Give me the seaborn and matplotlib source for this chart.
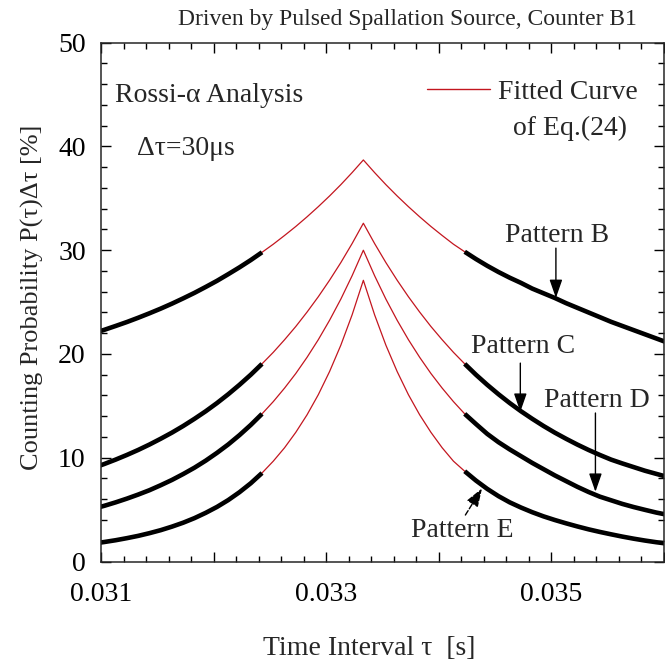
import numpy as np
import pandas as pd
import matplotlib
matplotlib.use("Agg")
import matplotlib.pyplot as plt
import seaborn as sns
from matplotlib.ticker import MultipleLocator, FuncFormatter
from matplotlib.lines import Line2D

# ---- data ----
# sampling grid: offsets k = -24..27 (step 0.1 ms) around the peak at T = 1/30 s
offset_k = np.arange(-24, 28)
tau = np.round(0.03333 + 0.0001 * offset_k, 5)

pattern_B = [21.99, 22.33, 22.70, 23.08, 23.49, 23.92, 24.37, 24.85, 25.36, 25.89, 26.46, 27.05,
             27.69, 28.35, 29.05, 29.80, 30.58, 31.42, 32.29, 33.22, 34.20, 35.23, 36.32, 37.48,
             38.70,
             37.48, 36.32, 35.23, 34.20, 33.22, 32.29, 31.42, 30.58, 29.85, 29.15, 28.50, 27.90,
             27.35, 26.85, 26.30, 25.85, 25.40, 24.90, 24.45, 24.00, 23.55, 23.10, 22.70, 22.30,
             21.90, 21.50, 21.10]
pattern_C = [9.01, 9.40, 9.82, 10.27, 10.75, 11.27, 11.83, 12.42, 13.06, 13.75, 14.48, 15.27,
             16.12, 17.03, 18.00, 19.05, 20.16, 21.37, 22.65, 24.04, 25.52, 27.11, 28.81, 30.64,
             32.60,
             30.64, 28.81, 27.11, 25.52, 24.04, 22.65, 21.37, 20.16, 19.05, 18.00, 17.03, 16.12,
             15.27, 14.48, 13.75, 13.06, 12.42, 11.83, 11.27, 10.75, 10.27, 9.82, 9.45, 9.10,
             8.75, 8.45, 8.15]
pattern_D = [5.08, 5.37, 5.70, 6.06, 6.45, 6.87, 7.35, 7.86, 8.43, 9.04, 9.72, 10.47,
             11.28, 12.18, 13.16, 14.23, 15.41, 16.71, 18.12, 19.68, 21.38, 23.25, 25.29, 27.54,
             30.00,
             27.54, 25.29, 23.25, 21.38, 19.68, 18.12, 16.71, 15.41, 14.23, 13.25, 12.30, 11.50,
             10.80, 10.15, 9.50, 8.90, 8.30, 7.75, 7.20, 6.70, 6.25, 5.90, 5.55, 5.25,
             4.98, 4.72, 4.50]
pattern_E = [1.73, 1.88, 2.05, 2.25, 2.47, 2.73, 3.02, 3.36, 3.74, 4.18, 4.69, 5.26,
             5.92, 6.68, 7.54, 8.53, 9.67, 10.96, 12.45, 14.14, 16.08, 18.31, 20.85, 23.77,
             27.10,
             23.77, 20.85, 18.31, 16.08, 14.14, 12.45, 10.96, 9.67, 8.70, 7.80, 7.00, 6.30,
             5.70, 5.20, 4.75, 4.35, 4.00, 3.68, 3.38, 3.10, 2.85, 2.62, 2.40, 2.20,
             2.02, 1.86, 1.72]

patterns = {"B": pattern_B, "C": pattern_C, "D": pattern_D, "E": pattern_E}
measured_from_k = 9   # measured data shown for |k| >= 9, fitted curve in between

df = pd.concat([pd.DataFrame({"tau": tau, "k": offset_k, "P": vals, "pattern": name})
                for name, vals in patterns.items()], ignore_index=True)

# ---- style ----
sns.set_style("ticks")
plt.rcParams["font.family"] = ["Liberation Serif", "DejaVu Serif"]
plt.rcParams["axes.linewidth"] = 1.1

RED = "#c3161f"
fig = plt.figure(figsize=(6.65, 6.64), dpi=100)
ax = fig.add_axes([101 / 665, 1 - 561.5 / 664, (664 - 101) / 665, (561.5 - 42.7) / 664])

for name in patterns:
    sub = df[df.pattern == name]
    sns.lineplot(data=sub, x="tau", y="P", ax=ax, color=RED, lw=0.9,
                 estimator=None, sort=False, legend=False)
    left = sub[sub.k <= -measured_from_k]
    right = sub[sub.k >= measured_from_k]
    for part in (left, right):
        sns.lineplot(data=part, x="tau", y="P", ax=ax, color="black", lw=3.3,
                     estimator=None, sort=False, legend=False, solid_capstyle="butt")

ax.set_xlim(0.031, 0.036)
ax.set_ylim(0, 50)
ax.xaxis.set_major_locator(MultipleLocator(0.001))
ax.xaxis.set_minor_locator(MultipleLocator(0.0002))
ax.yaxis.set_major_locator(MultipleLocator(10))
ax.yaxis.set_minor_locator(MultipleLocator(2))
ax.xaxis.set_major_formatter(FuncFormatter(
    lambda v, p: f"{v:.3f}" if int(round(v * 1000)) % 2 == 1 else ""))
ax.yaxis.set_major_formatter(FuncFormatter(lambda v, p: f"{v:.0f}"))
ax.tick_params(which="both", direction="in", top=True, right=True, labelsize=20,
               colors="black", width=1)
ax.tick_params(which="major", length=7)
ax.tick_params(which="minor", length=4)
ax.tick_params(axis="x", pad=15)
ax.tick_params(axis="y", pad=11)

ax.set_xlabel("Time Interval τ  [s]", fontsize=20)
ax.xaxis.set_label_coords(0.477, -0.167)
ax.xaxis.label.set_va("center")
ax.set_ylabel("Counting Probability P(τ)Δτ [%]", fontsize=19)
ax.yaxis.set_label_coords(-0.122, 0.51)
ax.yaxis.label.set_va("center")

fig.text(637 / 665, 1 - 20 / 664, "Driven by Pulsed Spallation Source, Counter B1",
         ha="right", va="center", fontsize=17)

ax.text(0.031124, 44.94, "Rossi-α Analysis", ha="left", va="center", fontsize=20)
ax.text(0.03132, 39.84, "Δτ=30μs", ha="left", va="center", fontsize=20)

ax.legend(handles=[Line2D([], [], color=RED, lw=1)], labels=["Fitted Curve"],
          loc="center left", bbox_to_anchor=(0.5785, 0.905), frameon=False,
          handlelength=2.28, handletextpad=0.3, borderpad=0, borderaxespad=0, fontsize=20)
ax.text(0.035162, 41.73, "of Eq.(24)", ha="center", va="center", fontsize=20)

arrow = dict(arrowstyle="-|>,head_length=0.8,head_width=0.28", color="black", lw=1,
             shrinkA=0, shrinkB=0, mutation_scale=14)
labels = [("Pattern B", (0.035051, 31.45), (0.03504, 30.2), (0.03504, 25.4), "-"),
          ("Pattern C", (0.034747, 20.69), (0.034724, 19.12), (0.034724, 14.43), "-"),
          ("Pattern D", (0.035406, 15.56), (0.035391, 14.31), (0.035391, 6.72), "-"),
          ("Pattern E", (0.034213, 3.03), (0.034236, 4.48), (0.034384, 7.05), "--")]
for txt, pos, tail, tip, ls in labels:
    ax.text(pos[0], pos[1], txt, ha="center", va="center", fontsize=20)
    ax.annotate("", xy=tip, xytext=tail, arrowprops=dict(arrow, linestyle=ls))

fig.savefig("out.png", dpi=100)
